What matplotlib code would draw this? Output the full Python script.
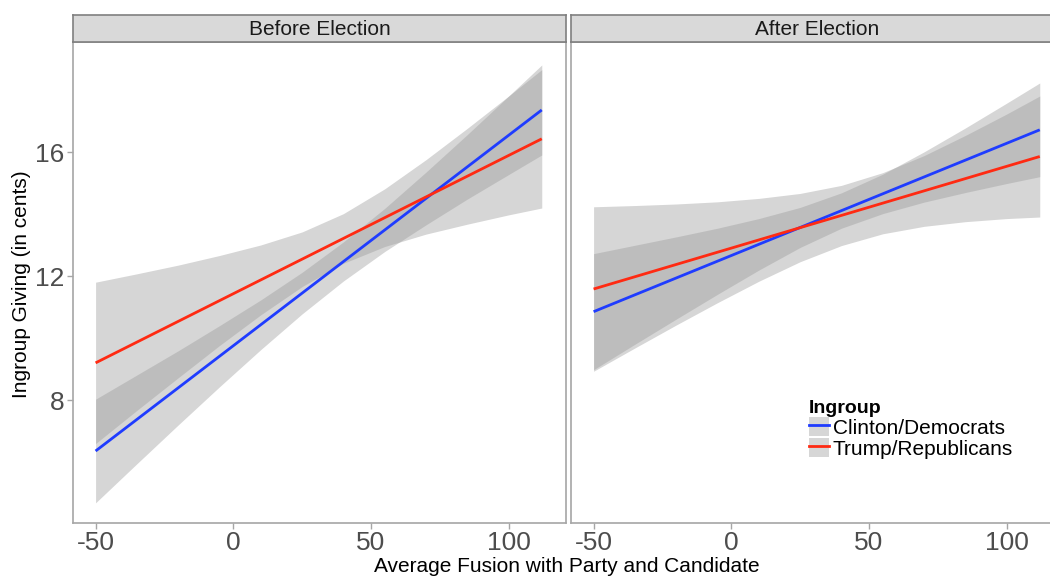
import numpy as np
import matplotlib
matplotlib.use("Agg")
import matplotlib.pyplot as plt
from matplotlib.patches import Patch
from matplotlib.lines import Line2D
from matplotlib.legend_handler import HandlerTuple

plt.rcParams['font.family'] = ['Liberation Sans', 'DejaVu Sans']
plt.rcParams['axes.unicode_minus'] = False

# fusion values where the bands were read
fusion = [-50, -35, -20, -5, 10, 25, 40, 55, 70, 85, 100, 112]

# fitted lines (end points)
line_x = [-50, 112]
before_dem = [6.37, 17.36]
before_rep = [9.21, 16.43]
after_dem = [10.86, 16.72]
after_rep = [11.59, 15.86]

# confidence bands
before_dem_lo = [4.70, 5.96, 7.21, 8.44, 9.64, 10.79, 11.85, 12.80, 13.66, 14.49, 15.28, 15.91]
before_dem_hi = [8.04, 8.82, 9.60, 10.41, 11.24, 12.13, 13.11, 14.19, 15.36, 16.57, 17.81, 18.81]
before_rep_lo = [6.61, 7.68, 8.73, 9.77, 10.76, 11.67, 12.42, 12.96, 13.36, 13.68, 13.98, 14.20]
before_rep_hi = [11.81, 12.08, 12.36, 12.67, 13.01, 13.43, 14.02, 14.82, 15.76, 16.77, 17.81, 18.66]
after_dem_lo = [8.99, 9.81, 10.62, 11.42, 12.20, 12.93, 13.55, 14.02, 14.39, 14.70, 14.99, 15.21]
after_dem_hi = [12.73, 13.00, 13.27, 13.55, 13.86, 14.22, 14.69, 15.29, 16.01, 16.78, 17.58, 18.23]
after_rep_lo = [8.94, 9.69, 10.43, 11.15, 11.84, 12.47, 12.99, 13.37, 13.61, 13.76, 13.86, 13.91]
after_rep_hi = [14.24, 14.28, 14.33, 14.40, 14.51, 14.67, 14.93, 15.34, 15.89, 16.54, 17.23, 17.81]

groups = ["Clinton/Democrats", "Trump/Republicans"]
colors = ["#1f3cff", "#ff2a12"]
panels = ["Before Election", "After Election"]

W, H = 1050, 576
fig = plt.figure(figsize=(W / 100, H / 100), dpi=100)

def px_axes(x0, y0, x1, y1):
    return fig.add_axes([x0 / W, 1 - y1 / H, (x1 - x0) / W, (y1 - y0) / H])

border = "#a6a6a6"
ax1 = px_axes(73, 42, 566, 523)
ax2 = px_axes(571, 42, 1064, 523)
s1 = px_axes(73, 15, 566, 42)
s2 = px_axes(571, 15, 1064, 42)

data = [
    (before_dem, before_rep, before_dem_lo, before_dem_hi, before_rep_lo, before_rep_hi),
    (after_dem, after_rep, after_dem_lo, after_dem_hi, after_rep_lo, after_rep_hi),
]

for ax, d in zip([ax1, ax2], data):
    dem, rep, dlo, dhi, rlo, rhi = d
    ax.fill_between(fusion, dlo, dhi, color="#999999", alpha=0.4, lw=0)
    ax.fill_between(fusion, rlo, rhi, color="#999999", alpha=0.4, lw=0)
    ax.plot(line_x, dem, color=colors[0], lw=2, solid_capstyle="butt")
    ax.plot(line_x, rep, color=colors[1], lw=2, solid_capstyle="butt")
    ax.set_xlim(-58.2, 120.8)
    ax.set_ylim(4.05, 19.55)
    ax.set_xticks([-50, 0, 50, 100])
    ax.set_yticks([8, 12, 16])
    for sp in ax.spines.values():
        sp.set_color(border)
        sp.set_linewidth(1.2)
    ax.tick_params(colors=border, labelcolor="#4d4d4d", labelsize=19, length=4, width=1, pad=2)

ax2.tick_params(axis="y", left=False, labelleft=False)

for s, t in zip([s1, s2], panels):
    s.set_facecolor("#d9d9d9")
    s.set_xticks([])
    s.set_yticks([])
    for sp in s.spines.values():
        sp.set_color("#7f7f7f")
        sp.set_linewidth(1.2)
    s.text(0.5, 0.45, t, ha="center", va="center", fontsize=15, color="#1a1a1a", transform=s.transAxes)

fig.text(567 / W, 1 - 566 / H, "Average Fusion with Party and Candidate", ha="center", va="center", fontsize=15)
fig.text(22 / W, 1 - 284 / H, "Ingroup Giving (in cents)", ha="center", va="center", rotation=90, fontsize=15)

handles = [(Patch(facecolor="#999999", alpha=0.4, edgecolor="none"), Line2D([], [], color=c, lw=2)) for c in colors]
leg = ax2.legend(handles, groups, handler_map={tuple: HandlerTuple(ndivide=1)},
                 title="Ingroup", loc="upper left", bbox_to_anchor=(809 / W, 1 - 400 / H),
                 bbox_transform=fig.transFigure, frameon=False, fontsize=15,
                 title_fontproperties={"weight": "bold", "size": 14},
                 handlelength=0.95, handleheight=1.05, handletextpad=0.2, labelspacing=0.0,
                 borderpad=0.0, borderaxespad=0.0, alignment="left")

fig.savefig("out.png", dpi=100)
